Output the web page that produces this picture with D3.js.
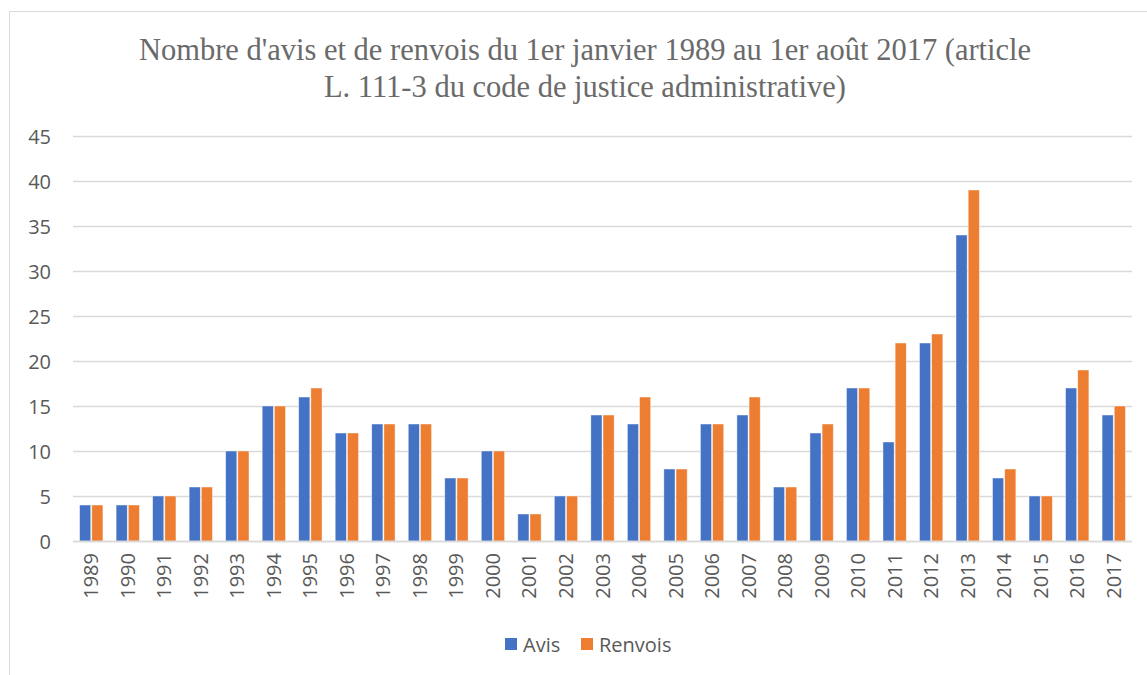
<!DOCTYPE html>
<html>
<head>
<meta charset="utf-8">
<script src="https://cdn.jsdelivr.net/npm/d3@7"></script>
<style>
  html, body { margin: 0; padding: 0; background: #fff; }
  svg { display: block; }
</style>
</head>
<body>
<svg id="chart" width="1147" height="675"></svg>
<script>
const years = ["1989","1990","1991","1992","1993","1994","1995","1996","1997","1998","1999","2000","2001","2002","2003","2004","2005","2006","2007","2008","2009","2010","2011","2012","2013","2014","2015","2016","2017"];
const avis =    [4,4,5,6,10,15,16,12,13,13,7,10,3,5,14,13,8,13,14,6,12,17,11,22,34,7,5,17,14];
const renvois = [4,4,5,6,10,15,17,12,13,13,7,10,3,5,14,16,8,13,16,6,13,17,22,23,39,8,5,19,15];
const seriesNames = ["Avis", "Renvois"];
const yTicks = [0,5,10,15,20,25,30,35,40,45];
const titleLines = ["Nombre d'avis et de renvois du 1er janvier 1989 au 1er août 2017 (article", "L. 111-3 du code de justice administrative)"];

const colors = ["#4472C4", "#ED7D31"];
const textColor = "#595959";
const svg = d3.select("#chart");
const W = 1147, H = 675;
const m = {left: 73, right: 1132, top: 136, bottom: 541};

// outer chart border
svg.append("path")
  .attr("d", `M9.5,${H} L9.5,11.5 L${W},11.5`)
  .attr("fill", "none").attr("stroke", "#d9d9d9").attr("stroke-width", 1);

// title
svg.append("g").selectAll("text").data(titleLines).join("text")
  .attr("x", 585).attr("y", (d, i) => 60 + i * 37)
  .attr("text-anchor", "middle")
  .attr("font-family", "'Liberation Serif', serif")
  .attr("font-size", 30.5)
  .attr("fill", "#6a6a6a")
  .text(d => d);

const x = d3.scaleBand().domain(years).range([m.left, m.right]).paddingInner(0).paddingOuter(0);
const y = d3.scaleLinear().domain([0, 45]).range([m.bottom, m.top]);
const xs = d3.scaleBand().domain(seriesNames).range([0, x.bandwidth()]).paddingInner(0).paddingOuter(0.5);

// gridlines
svg.append("g").selectAll("line").data(yTicks).join("line")
  .attr("x1", m.left).attr("x2", m.right)
  .attr("y1", d => Math.round(y(d)) + 0.5).attr("y2", d => Math.round(y(d)) + 0.5)
  .attr("stroke", "#d9d9d9").attr("stroke-width", 1.5);

// y axis labels
const yAxis = d3.axisLeft(y).tickValues(yTicks).tickSize(0).tickPadding(0);
const gy = svg.append("g").attr("transform", "translate(51,0)").call(yAxis);
gy.select(".domain").remove();
gy.selectAll("text")
  .attr("font-family", "'Open Sans', sans-serif").attr("font-size", 20)
  .attr("fill", textColor).attr("dy", "0.35em");

// bars
const data = years.map((yr, i) => ({year: yr, values: [avis[i], renvois[i]]}));
const groups = svg.append("g").selectAll("g").data(data).join("g")
  .attr("transform", d => `translate(${x(d.year)},0)`);
groups.selectAll("rect").data(d => d.values.map((v, j) => ({name: seriesNames[j], v, j}))).join("rect")
  .attr("x", d => xs(d.name) + 0.5)
  .attr("width", xs.bandwidth() - 1)
  .attr("y", d => y(d.v))
  .attr("height", d => y(0) - y(d.v))
  .attr("fill", d => colors[d.j])
  .attr("stroke", "#fff").attr("stroke-opacity", 0.6).attr("stroke-width", 0.75);

// baseline
svg.append("line").attr("x1", m.left).attr("x2", m.right)
  .attr("y1", Math.round(y(0)) + 0.5).attr("y2", Math.round(y(0)) + 0.5)
  .attr("stroke", "#d9d9d9").attr("stroke-width", 1.5);

// x axis labels
const xAxis = d3.axisBottom(x).tickSize(0).tickPadding(0);
const gx = svg.append("g").attr("transform", `translate(0,${m.bottom})`).call(xAxis);
gx.select(".domain").remove();
gx.selectAll("text")
  .attr("font-family", "'Open Sans', sans-serif").attr("font-size", 20)
  .attr("fill", textColor)
  .attr("transform", "rotate(-90)")
  .attr("text-anchor", "end")
  .attr("x", -12).attr("y", 0).attr("dy", "0.35em");

// legend
const legend = svg.append("g");
const legX = [505, 581];
seriesNames.forEach((n, i) => {
  legend.append("rect").attr("x", legX[i]).attr("y", 638).attr("width", 12).attr("height", 12).attr("fill", colors[i]);
  legend.append("text").attr("x", legX[i] + 18).attr("y", 652)
    .attr("font-family", "'Open Sans', sans-serif").attr("font-size", 20)
    .attr("fill", textColor).text(n);
});
</script>
</body>
</html>
